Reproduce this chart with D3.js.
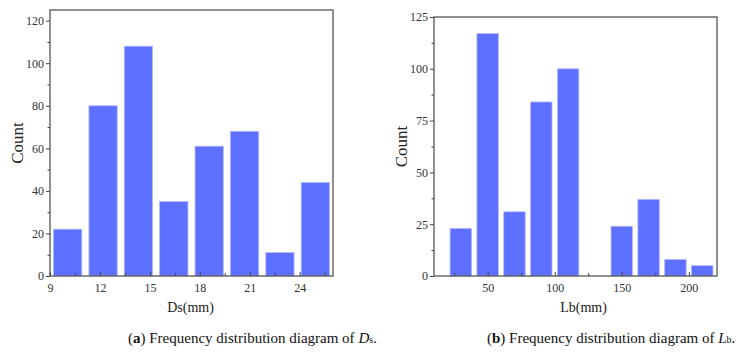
<!DOCTYPE html>
<html>
<head>
<meta charset="utf-8">
<script src="https://cdn.jsdelivr.net/npm/d3@7"></script>
<style>
  body { margin: 0; background: #fff; }
  svg { display: block; font-family: "Liberation Serif", "Times New Roman", serif; }
</style>
</head>
<body>
<script>
// bin edges and counts
var dsEdges = [9, 11.125, 13.25, 15.375, 17.5, 19.625, 21.75, 23.875, 26];
var dsCounts = [22, 80, 108, 35, 61, 68, 11, 44];
var dsTicks = [9, 12, 15, 18, 21, 24];
var dsYTicks = [0, 20, 40, 60, 80, 100, 120];

var lbEdges = [20, 40, 60, 80, 100, 120, 140, 160, 180, 200, 220];
var lbCounts = [23, 117, 31, 84, 100, 0, 24, 37, 8, 5];
var lbTicks = [50, 100, 150, 200];
var lbYTicks = [0, 25, 50, 75, 100, 125];

var W = 738, H = 357;
var svg = d3.select("body").append("svg").attr("width", W).attr("height", H);

function panel(opt)
{
	var x = d3.scaleLinear().domain(opt.xDomain).range([opt.left, opt.right]);
	var y = d3.scaleLinear().domain([0, 125]).range([opt.bottom, opt.top]);
	var g = svg.append("g");

	// bars
	var bins = opt.counts.map(function(c, i) { return {x0: opt.edges[i], x1: opt.edges[i + 1], n: c}; });
	g.selectAll("rect.bar")
		.data(bins.filter(function(d) { return d.n > 0; }))
		.enter()
	  .append("rect")
		.attr("class", "bar")
		.attr("x", function(d) { return x(d.x0 + (d.x1 - d.x0) * 0.1); })
		.attr("width", function(d) { return x(d.x0 + (d.x1 - d.x0) * 0.9) - x(d.x0 + (d.x1 - d.x0) * 0.1); })
		.attr("y", function(d) { return y(d.n); })
		.attr("height", function(d) { return y(0) - y(d.n); })
		.attr("fill", "#5e70ff")
		.attr("stroke", "#b3baff")
		.attr("stroke-width", 0.8);

	// frame
	g.append("rect")
		.attr("x", opt.left).attr("y", opt.top)
		.attr("width", opt.right - opt.left).attr("height", opt.bottom - opt.top)
		.attr("fill", "none").attr("stroke", "#555").attr("stroke-width", 1.3);

	// x axis (ticks pointing in)
	var xAxis = d3.axisBottom(x).tickValues(opt.xTicks).tickSize(-4).tickPadding(7).tickFormat(d3.format("d"));
	var xa = g.append("g").attr("transform", "translate(0," + opt.bottom + ")").call(xAxis);
	var xMinor = d3.axisBottom(x).tickValues(opt.xMinor).tickSize(-3).tickFormat("");
	var xm = g.append("g").attr("transform", "translate(0," + opt.bottom + ")").call(xMinor);

	// y axis (ticks pointing out)
	var yAxis = d3.axisLeft(y).tickValues(opt.yTicks).tickSize(4).tickPadding(2);
	var ya = g.append("g").attr("transform", "translate(" + opt.left + ",0)").call(yAxis);
	var yMinor = d3.axisLeft(y).tickValues(opt.yMinor).tickSize(2.5).tickFormat("");
	var ym = g.append("g").attr("transform", "translate(" + opt.left + ",0)").call(yMinor);

	[xa, xm, ya, ym].forEach(function(a) {
		a.select(".domain").remove();
		a.selectAll("line").attr("stroke", "#444");
		a.selectAll("text")
			.style("font-family", "'Liberation Serif', serif")
			.style("font-size", "12px")
			.attr("fill", "#333");
	});

	// titles
	g.append("text")
		.attr("x", (opt.left + opt.right) / 2 + opt.titleShift)
		.attr("y", 312)
		.attr("text-anchor", "middle")
		.style("font-size", "14px")
		.attr("fill", "#222")
		.text(opt.xTitle);
	g.append("text")
		.attr("transform", "translate(" + opt.yTitleX + "," + ((opt.top + opt.bottom) / 2) + ") rotate(-90)")
		.attr("text-anchor", "middle")
		.attr("dy", "0.35em")
		.style("font-size", "17px")
		.attr("fill", "#222")
		.text("Count");
}

panel({
	left: 50, right: 333, top: 10, bottom: 276,
	xDomain: [9, 26], edges: dsEdges, counts: dsCounts,
	xTicks: dsTicks, xMinor: [10.5, 13.5, 16.5, 19.5, 22.5, 25.5],
	yTicks: dsYTicks, yMinor: [10, 30, 50, 70, 90, 110],
	xTitle: "Ds(mm)", titleShift: -1, yTitleX: 17
});

panel({
	left: 434, right: 717, top: 17, bottom: 276,
	xDomain: [10, 221], edges: lbEdges, counts: lbCounts,
	xTicks: lbTicks, xMinor: [25, 75, 125, 175],
	yTicks: lbYTicks, yMinor: [12.5, 37.5, 62.5, 87.5, 112.5],
	xTitle: "Lb(mm)", titleShift: 8, yTitleX: 401
});

// captions
function caption(x, letter, sym, sub)
{
	var t = svg.append("text")
		.attr("x", x).attr("y", 343)
		.style("font-size", "15px")
		.attr("fill", "#111");
	t.append("tspan").text("(");
	t.append("tspan").style("font-weight", "bold").text(letter);
	t.append("tspan").text(") Frequency distribution diagram of ");
	t.append("tspan").style("font-style", "italic").text(sym);
	t.append("tspan").style("font-size", "10px").text(sub);
	t.append("tspan").text(".");
}
caption(128, "a", "D", "s");
caption(487, "b", "L", "b");
</script>
</body>
</html>
